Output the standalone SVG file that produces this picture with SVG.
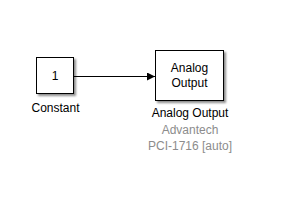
<svg xmlns="http://www.w3.org/2000/svg" width="289" height="203" viewBox="0 0 289 203">
<defs>
<filter id="sh" x="-20%" y="-20%" width="150%" height="150%">
<feGaussianBlur in="SourceAlpha" stdDeviation="1.2"/>
<feOffset dx="2" dy="2" result="b"/>
<feComponentTransfer><feFuncA type="linear" slope="0.45"/></feComponentTransfer>
<feMerge><feMergeNode/><feMergeNode in="SourceGraphic"/></feMerge>
</filter>
<marker id="ah" markerWidth="8" markerHeight="8" refX="8" refY="4" orient="auto" markerUnits="userSpaceOnUse">
<path d="M0,0 L8,4 L0,8 z" fill="#000"/>
</marker>
</defs>
<style>
.blk{fill:#fff;stroke:#000;stroke-width:1}
.t{font-family:"Liberation Sans",Arial,sans-serif;font-size:12px;fill:#000;text-anchor:middle}
.g{fill:#8c8c8c}
</style>
<rect width="289" height="203" fill="#fff"/>
<g id="connectors">
<line x1="74" y1="76.5" x2="155" y2="76.5" stroke="#000" stroke-width="1" marker-end="url(#ah)"/>
</g>
<g id="constant">
<rect class="blk" x="36.5" y="57.5" width="37" height="36" filter="url(#sh)"/>
<text class="t" x="55" y="80">1</text>
<text class="t" x="55.5" y="112">Constant</text>
</g>
<g id="analog-output">
<rect class="blk" x="155.5" y="50.5" width="68" height="50" filter="url(#sh)"/>
<text class="t" x="189.5" y="72">Analog</text>
<text class="t" x="189.5" y="87">Output</text>
<text class="t" x="190" y="117">Analog Output</text>
<text class="t g" x="190" y="134">Advantech</text>
<text class="t g" x="190" y="150">PCI-1716 [auto]</text>
</g>
</svg>
